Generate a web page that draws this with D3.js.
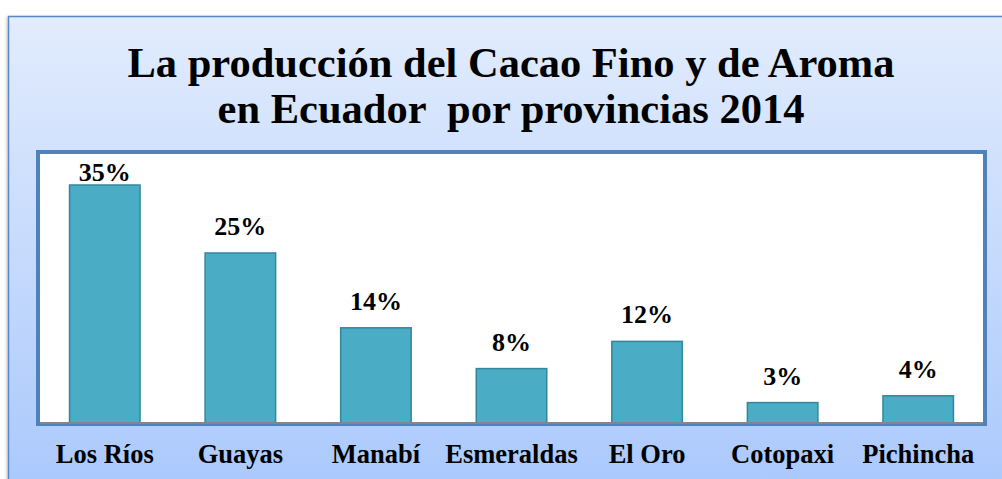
<!DOCTYPE html>
<html>
<head>
<meta charset="utf-8">
<script src="https://cdn.jsdelivr.net/npm/d3@7"></script>
<style>
  body { margin: 0; background: #fff; }
  svg { display: block; }
</style>
</head>
<body>
<svg id="chart"></svg>
<script>
const provinces = ["Los Ríos", "Guayas", "Manabí", "Esmeraldas", "El Oro", "Cotopaxi", "Pichincha"];
const shares = [35, 25, 14, 8, 12, 3, 4];
const titleLines = ["La producción del Cacao Fino y de Aroma", "en Ecuador  por provincias 2014"];

const width = 1002, height = 479;
const svg = d3.select("#chart").attr("width", width).attr("height", height);
const font = "'Liberation Serif', 'Times New Roman', serif";

// Background gradient
const defs = svg.append("defs");
const grad = defs.append("linearGradient")
    .attr("id", "panelGrad")
    .attr("x1", 0).attr("y1", 0).attr("x2", 0).attr("y2", 1);
grad.append("stop").attr("offset", "0%").attr("stop-color", "#e2ecfd");
grad.append("stop").attr("offset", "100%").attr("stop-color", "#a9c8fc");

const shadow = defs.append("filter").attr("id", "shadow")
    .attr("x", "-5%").attr("y", "-5%").attr("width", "110%").attr("height", "110%");
shadow.append("feDropShadow").attr("dx", -1).attr("dy", 1).attr("stdDeviation", 1.5)
    .attr("flood-color", "#000").attr("flood-opacity", 0.25);

// Outer panel
svg.append("rect")
    .attr("x", 8.5).attr("y", 16.5)
    .attr("width", 1010).attr("height", 480)
    .attr("fill", "url(#panelGrad)")
    .attr("stroke", "#5a88c6")
    .attr("stroke-width", 1.5)
    .attr("filter", "url(#shadow)");

// Title
svg.append("text")
    .attr("x", 511)
    .attr("text-anchor", "middle")
    .style("font-family", font)
    .style("font-weight", "bold")
    .style("font-size", "42.5px")
    .style("white-space", "pre")
    .attr("fill", "#000")
    .selectAll("tspan")
    .data(titleLines)
    .enter()
    .append("tspan")
    .attr("x", 511)
    .attr("y", (d, i) => 77 + i * 46)
    .text(d => d);

// Scales
const x = d3.scaleBand().domain(provinces).range([37, 986]).paddingInner(0.48).paddingOuter(0.24);
const y = d3.scaleLinear().domain([0, 40]).range([423, 151]);

// Plot area
svg.append("rect")
    .attr("x", 38).attr("y", 152)
    .attr("width", 947).attr("height", 272)
    .attr("fill", "#fff")
    .attr("stroke", "#4f81bd")
    .attr("stroke-width", 4);

// Bars
svg.selectAll(".bar")
    .data(shares)
    .enter()
    .append("rect")
    .attr("class", "bar")
    .attr("x", (d, i) => x(provinces[i]))
    .attr("y", d => y(d))
    .attr("width", x.bandwidth())
    .attr("height", d => y(0) - y(d))
    .attr("fill", "#4bacc6")
    .attr("stroke", "#35869c")
    .attr("stroke-width", 1.5);

// Axis line
svg.append("line")
    .attr("x1", 40).attr("x2", 983)
    .attr("y1", y(0)).attr("y2", y(0))
    .attr("stroke", "#868686")
    .attr("stroke-width", 2);

// Value labels
svg.selectAll(".val")
    .data(shares)
    .enter()
    .append("text")
    .attr("class", "val")
    .attr("x", (d, i) => x(provinces[i]) + x.bandwidth() / 2)
    .attr("y", d => Math.max(y(d) - 18, 181))
    .attr("text-anchor", "middle")
    .style("font-family", font)
    .style("font-weight", "bold")
    .style("font-size", "26px")
    .text(d => d + "%");

// Category labels
svg.selectAll(".cat")
    .data(provinces)
    .enter()
    .append("text")
    .attr("class", "cat")
    .attr("x", d => x(d) + x.bandwidth() / 2)
    .attr("y", 463)
    .attr("text-anchor", "middle")
    .style("font-family", font)
    .style("font-weight", "bold")
    .style("font-size", "26.5px")
    .text(d => d);
</script>
</body>
</html>
